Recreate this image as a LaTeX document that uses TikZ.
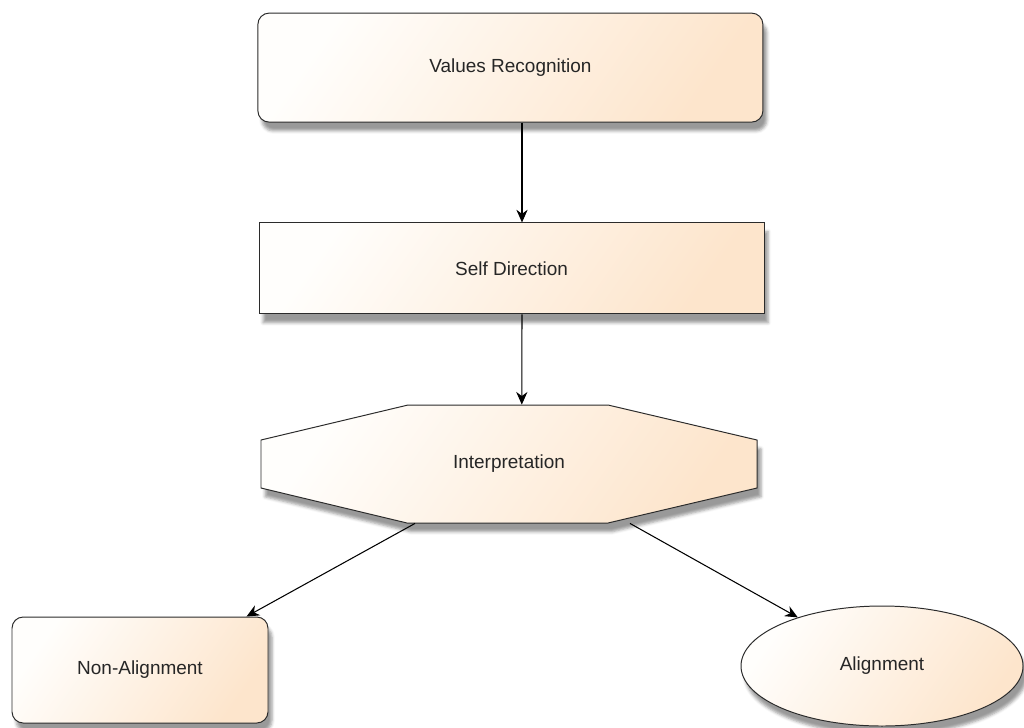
\documentclass[tikz,border=0pt]{standalone}
\usepackage{fontspec}
\setmainfont{Liberation Sans}
\usetikzlibrary{arrows,arrows.meta}
\usetikzlibrary{calc}
\usetikzlibrary{shapes}
\usetikzlibrary{shadows, shadows.blur}
\definecolor{peach}{HTML}{FDE5CC}
\definecolor{cream}{HTML}{FFFEFC}
\definecolor{rim}{HTML}{2B2B2B}
\tikzset{box/.style={draw=rim, line width=0.7pt, top color=cream, bottom color=peach, shading angle=55,
                     blur shadow={shadow xshift=0.1cm, shadow yshift=-0.22cm, shadow opacity=40}}}
\tikzset{txt/.style={text=black!85, font=\fontsize{13.5}{16}\selectfont}}
\tikzset{link/.style={-{Stealth[length=9pt,width=8pt]}, draw=black, line width=0.75pt}}

\begin{document}
\begin{tikzpicture}[semithick]
   \useasboundingbox (0,0) rectangle (25.6,-18.175);

   \node[box,txt,rounded corners=8pt,minimum width=12.625cm,minimum height=2.725cm] (VR) at (12.76,-1.69) {Values Recognition};
   \node[box,txt,minimum width=12.625cm,minimum height=2.275cm] (SD) at (12.79,-6.71) {Self Direction};

   % octagon drawn as a path, named node on top of it
   \path[box] (10.2,-10.125) -- (15.2,-10.125) -- (18.925,-11.0) -- (18.925,-12.2)
      -- (15.2,-13.075) -- (10.175,-13.075) -- (6.525,-12.2) -- (6.525,-11.0) -- cycle;
   \node[txt,minimum width=12.4cm,minimum height=2.95cm,inner sep=0pt] (IN) at (12.725,-11.6) {Interpretation};

   \node[box,txt,rounded corners=8pt,minimum width=6.4cm,minimum height=2.65cm] (NA) at (3.5,-16.75) {Non-Alignment};
   \node[box,txt,ellipse,minimum width=7.05cm,minimum height=3.0cm,inner sep=0pt] (AL) at (22.05,-16.65) {Alignment};

   \path
      ([xshift=0.29cm]VR.south) edge[link] ([xshift=0.26cm]SD.north)
      ([xshift=0.26cm]SD.south) edge[link] ([xshift=0.32cm]IN.north)
      ([xshift=-2.35cm]IN.south) edge[link] ([xshift=-0.55cm]NA.north east)
      ([xshift=3.025cm]IN.south) edge[link] (AL.150)
   ;
\end{tikzpicture}
\end{document}
